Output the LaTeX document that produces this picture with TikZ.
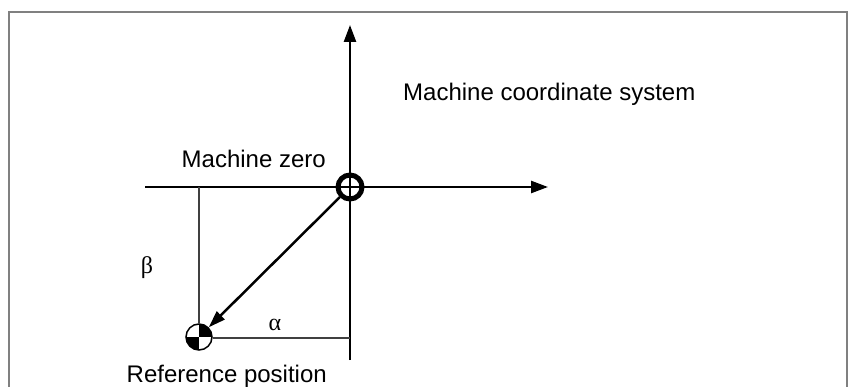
\documentclass[tikz,border=0pt]{standalone}
\usepackage{fontspec}
\setmainfont{Liberation Sans}
\newfontfamily\greekfont{Liberation Serif}
\usetikzlibrary{arrows.meta}
\begin{document}
\begin{tikzpicture}[x=1pt, y=-1pt,
    axisline/.style={line width=2.5pt, -{Triangle[length=17pt, width=12pt]}},
    thinline/.style={line width=1.5pt, black!75},
    zeromark/.style={circle, draw, line width=5pt, minimum size=24pt, inner sep=0pt},
    refmark/.style={circle, draw, line width=1.5pt, minimum size=26pt, inner sep=0pt,
        path picture={
            \fill (path picture bounding box.center) rectangle (path picture bounding box.north east);
            \fill (path picture bounding box.center) rectangle (path picture bounding box.south west);
        }},
    mylabel/.style={font=\fontsize{24}{28}\selectfont, inner sep=0pt},
    greeklabel/.style={font=\greekfont\fontsize{24}{28}\selectfont, inner sep=0pt}
]
    \useasboundingbox (0,0) rectangle (848,387);
    % frame
    \draw[line width=2pt, black!50] (9,400) -- (9,12) -- (847,12) -- (847,400);

    % machine coordinate system
    \coordinate (xstart) at (145,187);
    \coordinate (xend) at (548,187);
    \coordinate (ystart) at (350,360);
    \coordinate (yend) at (350,25);
    \draw[axisline] (xstart) -- (xend);
    \draw[axisline] (ystart) -- (yend);

    \node[zeromark] (mzero) at (350,187) {};
    \node[refmark] (refpos) at (199,337) {};

    % offsets alpha and beta
    \coordinate (btop) at (199,187);
    \coordinate (aend) at (350,338);
    \draw[thinline] (btop) -- (refpos.north);
    \draw[thinline] (refpos.east |- aend) -- (aend);

    \draw[line width=2.5pt, -{Triangle[length=17pt, width=11pt]}] (mzero) -- (refpos);

    \node[mylabel, anchor=base west] (title) at (403,101) {Machine coordinate system};
    \node[mylabel, anchor=base east] (zerolabel) at (326,168) {Machine zero};
    \node[mylabel, anchor=base east] (reflabel) at (327,382) {Reference position};
    \node[greeklabel] (beta) at (147,268) {β};
    \node[greeklabel] (alpha) at (275,325) {α};
\end{tikzpicture}
\end{document}
